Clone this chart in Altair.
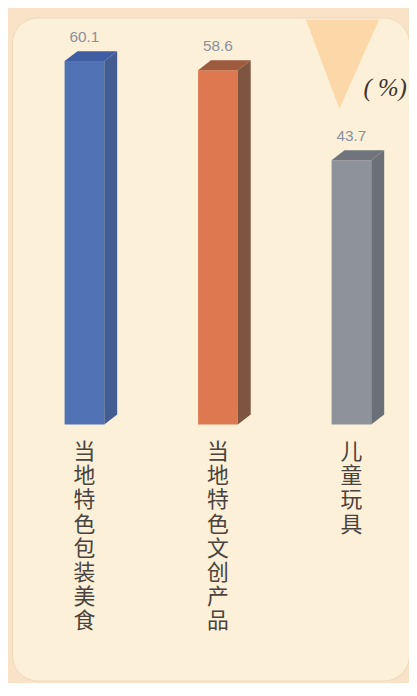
import altair as alt
import pandas as pd

categories = ["当地特色包装美食", "当地特色文创产品", "儿童玩具"]
values = [60.1, 58.6, 43.7]
front_colors = ["#5272b6", "#de7850", "#8e939b"]
side_colors = ["#435d92", "#7d5540", "#6b6f77"]
top_colors = ["#3f5da2", "#9d5a3c", "#70747c"]

# geometry of the pseudo-3D bars (in data units)
HW = 0.1487   # half width of front face
DX = 0.0967   # depth, horizontal
DY = 1.64     # depth, vertical

X_DOM = [-0.5428, 2.4312]
Y_DOM = [-42.36, 67.32]

front_rows, side_rows, top_rows, lab_rows = [], [], [], []
for i, (c, v) in enumerate(zip(categories, values)):
    front_rows.append({"cat": c, "x": i - HW, "x2": i + HW, "y": 0, "y2": v, "col": front_colors[i]})
    side_rows += [
        {"cat": c, "x": i + HW, "lo": 0, "hi": v, "col": side_colors[i]},
        {"cat": c, "x": i + HW + DX, "lo": DY, "hi": v + DY, "col": side_colors[i]},
    ]
    top_rows += [
        {"cat": c, "x": i - HW, "lo": v, "hi": v, "col": top_colors[i]},
        {"cat": c, "x": i - HW + DX, "lo": v, "hi": v + DY, "col": top_colors[i]},
        {"cat": c, "x": i + HW, "lo": v, "hi": v + DY, "col": top_colors[i]},
        {"cat": c, "x": i + HW + DX, "lo": v + DY, "hi": v + DY, "col": top_colors[i]},
    ]
    lab_rows.append({"cat": c, "x": i, "v": v, "vlab": f"{v:.1f}", "clab": "\n".join(list(c)), "zero": 0})

front = pd.DataFrame(front_rows)
side = pd.DataFrame(side_rows)
top = pd.DataFrame(top_rows)
labs = pd.DataFrame(lab_rows)

xs = alt.Scale(domain=X_DOM, nice=False, zero=False)
ys = alt.Scale(domain=Y_DOM, nice=False, zero=False)

front_l = alt.Chart(front).mark_rect().encode(
    x=alt.X("x:Q", scale=xs, axis=None),
    x2="x2:Q",
    y=alt.Y("y:Q", scale=ys, axis=None),
    y2="y2:Q",
    color=alt.Color("col:N", scale=None),
)

side_l = alt.Chart(side).mark_area().encode(
    x=alt.X("x:Q", scale=xs, axis=None),
    y=alt.Y("hi:Q", scale=ys, axis=None),
    y2="lo:Q",
    color=alt.Color("col:N", scale=None),
    detail="cat:N",
)

top_l = alt.Chart(top).mark_area().encode(
    x=alt.X("x:Q", scale=xs, axis=None),
    y=alt.Y("hi:Q", scale=ys, axis=None),
    y2="lo:Q",
    color=alt.Color("col:N", scale=None),
    detail="cat:N",
)

val_l = alt.Chart(labs).mark_text(
    dy=-24, baseline="middle", align="center", fontSize=15.5,
    font="Liberation Sans", color="#8a909c",
).encode(
    x=alt.X("x:Q", scale=xs, axis=None),
    y=alt.Y("v:Q", scale=ys, axis=None),
    text="vlab:N",
)

cat_l = alt.Chart(labs).mark_text(
    dy=18, baseline="top", align="center", fontSize=22, lineHeight=24.3,
    lineBreak="\n", font="Noto Sans CJK SC", color="#4a433d",
).encode(
    x=alt.X("x:Q", scale=xs, axis=None),
    y=alt.Y("zero:Q", scale=ys, axis=None),
    text="clab:N",
)

tri_l = alt.Chart(labs.head(1)).mark_point(
    shape="M-0.82,-1L0.82,-1L-0.07,1Z", filled=True, opacity=1,
    color="#fcd8a8", size=8100, strokeWidth=0,
).encode(x=alt.value(333), y=alt.value(47))

pct_l = alt.Chart(labs.head(1)).mark_text(
    text="( %)", fontSize=25, fontStyle="italic", font="Liberation Serif",
    color="#3a3430", align="center", baseline="middle",
).encode(x=alt.value(376), y=alt.value(71))

chart = alt.layer(tri_l, front_l, side_l, top_l, val_l, cat_l, pct_l).properties(
    width=400,
    height=668,
    autosize=alt.AutoSizeParams(type="none"),
    padding={"left": 4, "top": 7, "right": 0, "bottom": 0},
    background="#f9e3c8",
).configure_view(fill="#fcf0d9", stroke="#efd8ba", strokeWidth=1, cornerRadius=26)

chart.save("out.html", embed_options={"renderer": "svg", "actions": False})
